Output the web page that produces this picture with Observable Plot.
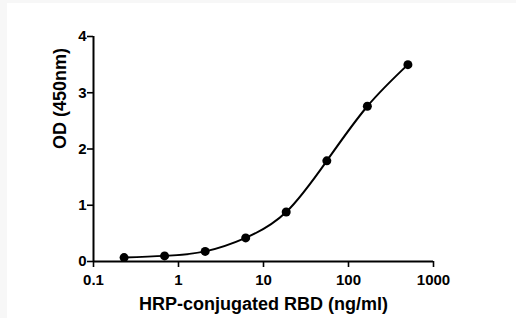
<!DOCTYPE html>
<html>
<head>
<meta charset="utf-8">
<script src="https://cdn.jsdelivr.net/npm/d3@7"></script>
<script src="https://cdn.jsdelivr.net/npm/@observablehq/plot@0.6"></script>
<style>
  html, body { margin: 0; padding: 0; background: #fff; }
  #wrap { position: relative; width: 516px; height: 318px; overflow: hidden; }
  .strip { position: absolute; background: #f7f7f7; }
  svg { display: block; }
</style>
</head>
<body>
<div id="wrap">
  <div class="strip" style="left:0;top:0;width:516px;height:3px"></div>
  <div class="strip" style="left:0;top:0;width:7px;height:318px"></div>
</div>
<script>
const concentrations = [0.229, 0.686, 2.06, 6.17, 18.5, 55.6, 166.7, 500];
const od = [0.07, 0.10, 0.18, 0.42, 0.88, 1.79, 2.76, 3.50];
const xTicks = [0.1, 1, 10, 100, 1000];
const yTicks = [0, 1, 2, 3, 4];
const xLabel = "HRP-conjugated RBD (ng/ml)";
const yLabel = "OD (450nm)";

const data = concentrations.map((c, i) => ({x: c, y: od[i]}));

const chart = Plot.plot({
  width: 516,
  height: 318,
  marginLeft: 93,
  marginRight: 83,
  marginTop: 36,
  marginBottom: 57,
  style: {fontFamily: "'Liberation Sans', Arial, sans-serif", background: "transparent", color: "#000"},
  x: {type: "log", domain: [0.1, 1000]},
  y: {domain: [0, 4]},
  marks: [
    Plot.ruleX([0.1], {stroke: "#000", strokeWidth: 2}),
    Plot.ruleY([0], {stroke: "#000", strokeWidth: 2}),
    Plot.axisX({ticks: xTicks, tickFormat: d => String(d), tickSize: 6, tickPadding: 7, fontSize: 15, fontWeight: "bold", strokeWidth: 1.6, label: null}),
    Plot.axisY({ticks: yTicks, tickFormat: d => String(d), tickSize: 6, tickPadding: 1, fontSize: 15, fontWeight: "bold", strokeWidth: 1.6, label: null}),
    Plot.line(data, {x: "x", y: "y", curve: "natural", stroke: "#000", strokeWidth: 2}),
    Plot.dot(data, {x: "x", y: "y", r: 4.5, fill: "#000"}),
    Plot.text([xLabel], {text: d => d, frameAnchor: "bottom", dy: 48, fontSize: 18, fontWeight: "bold", fill: "#000", lineAnchor: "bottom"}),
    Plot.text([yLabel], {text: d => d, frameAnchor: "left", dx: -33, rotate: -90, fontSize: 18, fontWeight: "bold", fill: "#000"})
  ]
});
document.getElementById("wrap").appendChild(chart);
</script>
</body>
</html>
